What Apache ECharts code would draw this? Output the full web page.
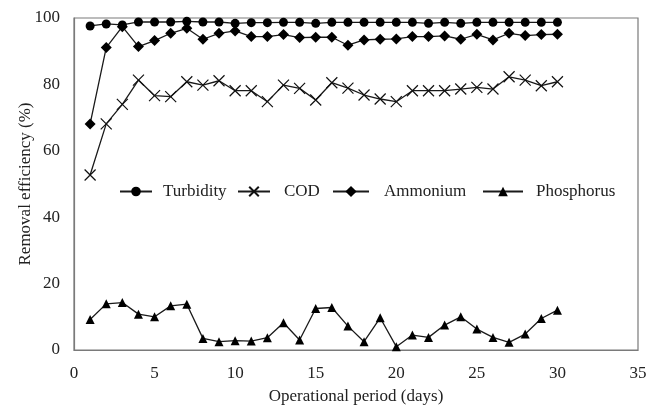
<!DOCTYPE html>
<html><head><meta charset="utf-8">
<script src="https://cdn.jsdelivr.net/npm/echarts@6/dist/echarts.min.js"></script>
<style>html,body{margin:0;padding:0;background:#fff}#c{width:648px;height:409px}</style>
</head><body><div id="c"></div>
<script>
const days = [1,2,3,4,5,6,7,8,9,10,11,12,13,14,15,16,17,18,19,20,21,22,23,24,25,26,27,28,29,30];
const turbidity = [97.6,98.2,97.9,98.8,98.8,98.8,99.0,98.8,98.8,98.4,98.6,98.6,98.7,98.7,98.4,98.7,98.7,98.7,98.7,98.7,98.7,98.4,98.7,98.4,98.7,98.7,98.7,98.7,98.7,98.7];
const cod = [52.7,68.1,74.0,81.3,76.6,76.3,80.8,79.8,81.1,78.1,78.1,74.8,79.8,78.8,75.3,80.5,78.9,76.8,75.6,74.8,78.1,78.1,78.1,78.6,79.1,78.6,82.3,81.3,79.6,80.8];
const ammonium = [68.1,91.1,97.4,91.4,93.2,95.4,96.9,93.6,95.4,96.1,94.4,94.4,95.0,94.1,94.2,94.2,91.8,93.4,93.6,93.7,94.4,94.4,94.6,93.6,95.1,93.4,95.4,94.7,95.0,95.1];
const phosphorus = [9.2,13.9,14.3,10.8,10.0,13.3,13.8,3.5,2.5,2.8,2.7,3.7,8.2,3.0,12.5,12.8,7.2,2.5,9.7,1.0,4.5,3.8,7.5,10.0,6.3,3.8,2.3,4.8,9.5,12.0];
const seriesNames = ['Turbidity','COD','Ammonium','Phosphorus'];
const xTicks = {min:0, max:35, interval:5};
const yTicks = {min:0, max:100, interval:20};

const font = 'Liberation Serif, Times New Roman, serif';
const fs = 17;
const pair = arr => days.map((d,i)=>[d,arr[i]]);
const base = (name, data, symbol, size, extra) => Object.assign({
  name, type:'line', data: pair(data), symbol, symbolSize:size,
  showSymbol:true,
  lineStyle:{color:'#1a1a1a', width:1.3},
  itemStyle:{color:'#000', borderColor:'#000', borderWidth:0},
  emphasis:{disabled:true}, animation:false, z:3
}, extra||{});

// one legend component per entry so each sits where the reference puts it
const legendLefts = [114, 232, 327, 477];
const legendIconW = [32, 32, 36, 40];
const legendIconH = [12, 12, 14, 12];
const legendPad = [6, 9, 10, 8];
const legends = seriesNames.map((n,i)=>({
  data:[n], left:legendLefts[i], top:178, itemWidth:legendIconW[i], itemHeight:legendIconH[i],
  selectedMode:false,
  textStyle:{fontFamily:font, fontSize:fs, color:'#222', padding:[0,0,0,legendPad[i]]}
}));

const chart = echarts.init(document.getElementById('c'), null, {renderer:'canvas'});
chart.setOption({
  backgroundColor:'#fff',
  animation:false,
  grid:{left:74, right:10, top:18, bottom:59, outerBoundsMode:'none', containLabel:false,
        show:true, borderColor:'#7a7a7a', borderWidth:1.2, backgroundColor:'transparent'},
  legend:legends,
  xAxis:{
    type:'value', min:xTicks.min, max:xTicks.max, interval:xTicks.interval,
    name:'Operational period (days)', nameLocation:'middle', nameGap:38, nameMoveOverlap:false,
    nameTextStyle:{fontFamily:font, fontSize:fs, color:'#222'},
    axisLine:{show:true, lineStyle:{color:'#7a7a7a', width:1.2}},
    axisTick:{show:false}, splitLine:{show:false},
    axisLabel:{fontFamily:font, fontSize:fs, color:'#222', margin:15}
  },
  yAxis:{
    type:'value', min:yTicks.min, max:yTicks.max, interval:yTicks.interval,
    name:'Removal efficiency (%)', nameLocation:'middle', nameGap:40, nameMoveOverlap:false,
    nameTextStyle:{fontFamily:font, fontSize:fs, color:'#222'},
    axisLine:{show:true, lineStyle:{color:'#7a7a7a', width:1.2}},
    axisTick:{show:false}, splitLine:{show:false},
    axisLabel:{fontFamily:font, fontSize:fs, color:'#222', margin:14}
  },
  series:[
    base('Turbidity', turbidity, 'circle', 9),
    base('COD', cod, 'path://M0,0L10,10M10,0L0,10', 11, {itemStyle:{color:'#000', borderColor:'#111', borderWidth:1.2}}),
    base('Ammonium', ammonium, 'diamond', 11),
    base('Phosphorus', phosphorus, 'triangle', 9)
  ]
});
</script>
</body></html>
